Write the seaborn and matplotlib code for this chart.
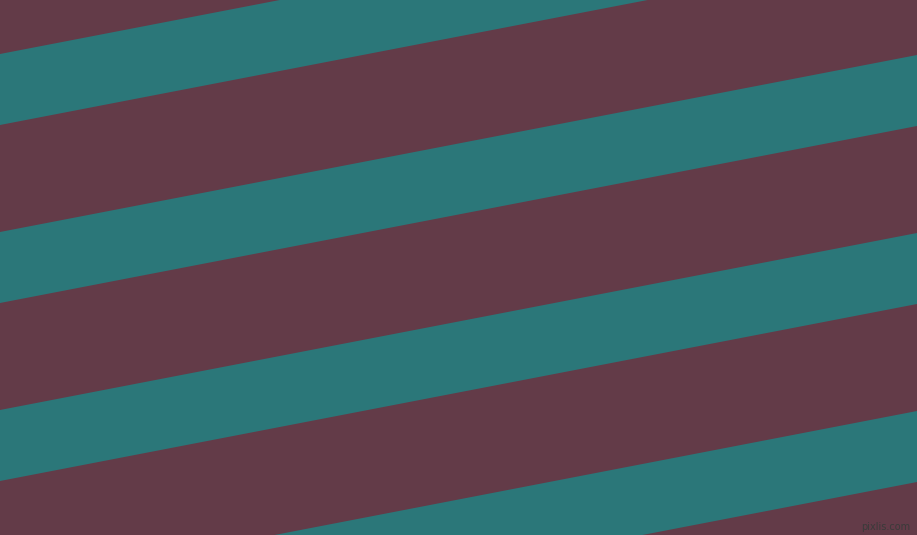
import numpy as np
import pandas as pd
import matplotlib
matplotlib.use("Agg")
import matplotlib.pyplot as plt
import seaborn as sns

# stripe geometry (pixels)
band_starts = [54, 232, 410, 588]   # top edge of each teal band at x = 0
band_width = 71
drop = 177                           # how far an edge rises across the full width
x_edges = [0, 917]

maroon = "#633b48"
teal = "#2b7779"

sns.set_theme(style="white")
fig = plt.figure(figsize=(9.17, 5.35), dpi=100)
ax = fig.add_axes([0, 0, 1, 1])
ax.set_facecolor(maroon)
fig.patch.set_facecolor(maroon)

x = np.array(x_edges, dtype=float)
for start in band_starts:
    top = start - drop * x / x_edges[-1]
    df = pd.DataFrame({"x": x, "top": top, "bottom": top + band_width})
    sns.lineplot(data=df, x="x", y="top", ax=ax, color=teal, lw=0)
    ax.fill_between(df["x"], df["top"], df["bottom"], color=teal, lw=0)

ax.text(910, 527, "pixlis.com", ha="right", va="center", fontsize=7,
        color="#3a3a3a")

ax.set_xlim(0, 917)
ax.set_ylim(535, 0)
ax.axis("off")
fig.savefig("out.png", dpi=100, facecolor=maroon)
